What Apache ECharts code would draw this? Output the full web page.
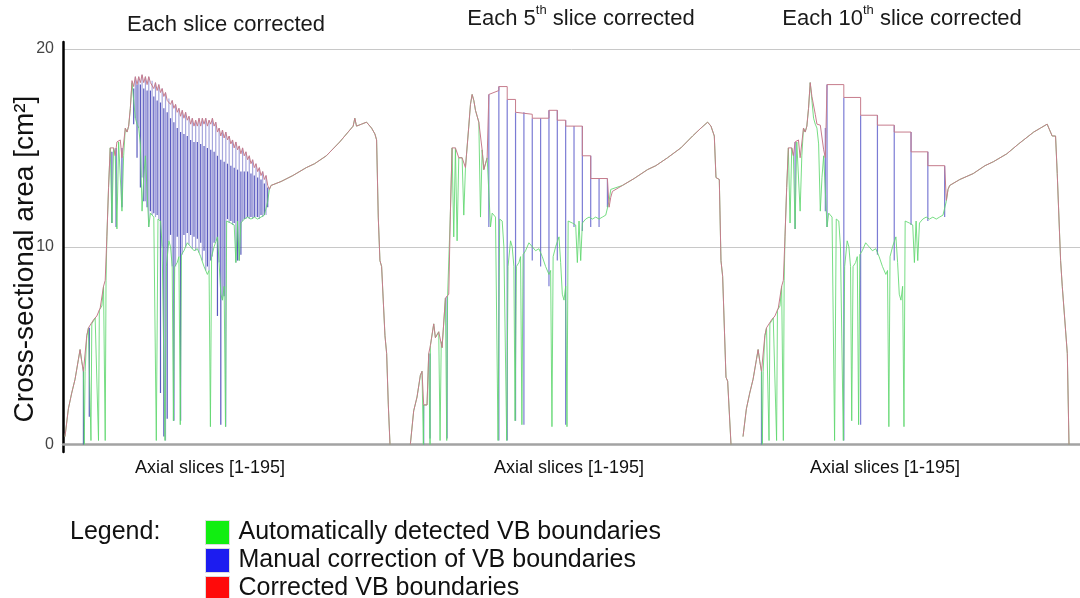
<!DOCTYPE html>
<html>
<head>
<meta charset="utf-8">
<title>VB boundaries</title>
<script src="https://cdn.jsdelivr.net/npm/echarts@6/dist/echarts.min.js"></script>
<style>
  html, body { margin: 0; padding: 0; background: #fff; }
  #container { width: 1080px; height: 598px; }
</style>
</head>
<body>
<div id="container"></div>
<script>
// slice numbers run 1..195, values in cm^2
var sliceMin = 1, sliceMax = 195;
var yTicks = [0, 10, 20];
var panelTitles = ['{n|Each slice corrected}', '{n|Each 5}{s|th}{n| slice corrected}', '{n|Each 10}{s|th}{n| slice corrected}'];
var xLabel = 'Axial slices [1-195]';
var yLabel = 'Cross-sectional area [cm\u00b2]';
var legendNames = ['Automatically detected VB boundaries', 'Manual correction of VB boundaries', 'Corrected VB boundaries'];

// automatic detection (green), start of the curve, panels 1 and 3
var autoHeadA = [[1,0.4],[3,1.8],[5,2.6],[7,3.3],[9,4.3],[10,4.8],[11,4.2],[12,3.7],[12.5,0],[13,3.7],[14,5.5],[15,5.9],[16,6.0],[16.5,0.2],[17,6.1],[19,6.4],[20,6.5],[21,0.2],[21.5,6.8],[23,7.0],[24,8.0],[25,0.2],[25.5,8.3],[26,10.5],[27,13.0],[28,15.0],[29,11.2],[30,15.0],[31,14.6],[32,10.9],[33,15.3],[34,15.4],[35,11.8],[36,14.6],[37,16.0],[38,15.8],[39,16.1],[40,17.0],[41,18.3],[42,17.4],[43,16.5],[44,16.2],[45,16.0],[46,15.2],[47,11.8],[48,13.5],[49,14.6]];
// automatic detection, start of the curve, panel 2
var autoHeadB = [[3,0],[5,1.7],[7,2.4],[9,3.5],[10,3.7],[10.8,0],[11,2.0],[13,2.0],[14,4.6],[14.8,0],[15,5.0],[17,6.1],[18,5.4],[20,5.7],[20.8,0.2],[21.5,5.2],[22,4.9],[24,7.4],[24.8,0.2],[25.3,7.5],[26,7.6],[27,11.8],[28,15.0],[29,10.5],[30,15.0],[31,10.3],[32,14.5],[34,14.5],[35,11.6],[36,14.0],[38,16.1],[39,17.2],[40,17.7],[41,17.4],[42,16.9],[43,16.6],[44,16.3],[45,11.5],[46,14.9],[47,13.9],[48,13.8],[49,14.5]];
// automatic detection, middle part (same in all panels)
var autoBody = [[50,14.5],[51,11.0],[52,11.7],[53,11.6],[54,11.5],[55,11.5],[55.5,0.2],[56.5,11.4],[58,11.3],[59,10.0],[60,10.0],[60.7,0.2],[61.5,9.0],[63,10.3],[64,10.0],[65,9.0],[65.7,1.2],[66.5,9.0],[68,9.2],[69,9.5],[69.8,1.0],[70.5,9.6],[72,9.8],[74,10.2],[76,10.0],[78,9.8],[80,9.9],[82,9.5],[84,9.0],[86,8.6],[87,8.8],[87.8,0.9],[88.5,9.5],[90,10.0],[92,10.5],[93,9.2],[94,7.6],[95,7.3],[96,8.0],[96.8,0.9],[97.5,11.3],[100,11.2],[102,11.1],[103,9.2],[104,11.3],[105,9.3],[106,11.2],[108,11.4],[110,11.5],[112,11.4],[114,11.5],[116,11.4],[118,11.5],[120,11.6],[122,12.3],[123,12.9]];

// corrected boundaries (red)
var corrHeadA = [[1,0.4],[3,1.8],[5,2.6],[7,3.3],[9,4.3],[10,4.8],[11,4.2],[12,3.7],[13,3.7],[14,5.5],[15,5.9],[16,6.0],[18,6.3],[20,6.5],[22,6.9],[23,7.0],[24,8.0],[25,8.3],[26,10.5],[27,13.0],[28,15.0],[30,15.0],[31,14.6],[32,15.3],[34,15.4],[35,14.5],[36,14.6],[37,16.0],[38,15.8],[39,16.1],[40,17.0]];
var corrHeadB = [[3,0],[5,1.7],[7,2.4],[9,3.5],[10,3.7],[11,2.0],[13,2.0],[14,4.6],[15,5.0],[17,6.1],[18,5.4],[20,5.7],[22,4.9],[24,7.4],[26,7.6],[27,11.8],[28,15.0],[30,15.0],[32,14.5],[34,14.5],[36,14.0],[38,16.1],[39,17.2],[40,17.7],[41,17.4],[42,16.9],[43,16.6],[44,16.3],[46,14.9],[47,13.9],[48,13.8],[49,14.5]];
var corrMid1 = [[41,18.4],[42,18.1],[43,18.6],[44,18.2],[45,18.6],[46,18.3],[47,18.7],[48,18.3],[49,18.6],[50,18.2],[51,18.6],[52,18.3],[53,18.4],[54,18.0],[55,18.3],[56,17.9],[57,18.2],[58,17.8],[59,18.0],[60,17.6],[61,17.8],[62,17.4],[63,17.5],[64,17.2],[65,17.4],[66,17.0],[67,17.2],[68,16.8],[69,17.0],[70,16.6],[71,16.9],[72,16.5],[73,16.8],[74,16.4],[75,16.6],[76,16.2],[77,16.5],[78,16.1],[79,16.4],[80,16.1],[81,16.5],[82,16.1],[83,16.5],[84,16.2],[85,16.5],[86,16.1],[87,16.4],[88,16.2],[89,16.5],[90,16.1],[91,16.3],[92,15.8],[93,16.0],[94,15.6],[95,15.9],[96,15.5],[97,15.8],[98,15.4],[99,15.6],[100,15.2],[101,15.4],[102,15.0],[103,15.3],[104,14.9],[105,15.1],[106,14.7],[107,15.0],[108,14.6],[109,14.8],[110,14.4],[111,14.6],[112,14.2],[113,14.4],[114,14.0],[115,14.2],[116,13.8],[117,14.0],[118,13.6],[119,13.8],[120,13.4],[121,13.6],[122,13.1],[123,12.9]];
var corrMid2 = [[50,14.4],[50,17.7],[56,17.9],[56,18.1],[61,18.1],[61,17.45],[66,17.45],[66,16.8],[76,16.7],[76,16.5],[86,16.5],[86,16.9],[91,16.9],[91,16.4],[96,16.4],[96,16.1],[106,16.1],[106,14.6],[111,14.6],[111,13.45],[121,13.45],[122,12.0],[123,12.5]];
var corrMid3 = [[41,18.3],[42,17.6],[44,16.7],[45,16.2],[47,16.15],[49,14.9],[50,14.5],[51,14.5],[51,18.2],[61,18.2],[61,17.55],[71,17.55],[71,16.65],[81,16.65],[81,16.15],[91,16.15],[91,15.8],[101,15.8],[101,14.8],[111,14.8],[111,14.1],[121,14.1],[122,12.35],[123,12.9]];

// end of the curve (no corrections there), one per panel
var tail1 = [[124,13.1],[130,13.3],[137,13.6],[145,14.0],[150,14.2],[157,14.6],[165,15.3],[170,15.8],[173,16.1],[174,16.5],[175,16.1],[178,16.2],[181,16.3],[184,16.0],[186,15.7],[187,15.4],[188,11.5],[189,9.3],[190,9.0],[192,5.5],[193,4.6],[194,2.0],[195,0]];
var tail2 = [[124,12.8],[130,13.1],[137,13.45],[145,13.9],[150,14.1],[157,14.5],[165,15.0],[172,15.6],[177,16.0],[181,16.3],[183,16.1],[185,15.6],[186,13.5],[188,13.4],[189,9.3],[190,8.5],[192,3.4],[193,3.2],[195,0]];
var tail3 = [[124,13.1],[130,13.4],[138,13.7],[145,14.1],[150,14.3],[158,14.7],[165,15.2],[174,15.8],[178,16.0],[182,16.2],[185,15.6],[187,15.6],[188,13.7],[190,9.3],[191,8.0],[194,4.6],[195,0]];

// manual corrections (blue): [slice, from, to]
var manualLight1 = [[43,16.5,18.6],[45,16.0,18.6],[47,13.5,18.7],[49,12.3,18.6],[51,11.0,18.6],[53,11.6,18.4],[55,11.5,18.3],[57,11.4,18.2],[59,10.0,18.0],[61,0.2,17.8],[63,10.3,17.5],[65,9.0,17.4],[67,9.0,17.2],[69,9.5,17.0],[71,9.6,16.9],[73,10.0,16.8],[75,10.1,16.6],[77,9.9,16.5],[79,9.8,16.4],[81,9.7,16.5],[83,9.3,16.5],[85,8.8,16.5],[87,8.8,16.4],[89,9.5,16.5],[91,10.3,16.3],[93,9.2,16.0],[95,7.3,15.9],[97,0.9,15.8],[99,11.2,15.6],[101,11.1,15.4],[103,9.2,15.3],[105,9.3,15.1],[107,11.3,15.0],[109,11.4,14.8],[111,11.4,14.6],[113,11.4,14.4],[115,11.5,14.2],[117,11.4,14.0],[119,11.5,13.8],[121,11.6,13.6]];
var manualDark1 = [[12,0,3.9],[15.5,1.4,5.9],[29,11.2,14.8],[31.5,11.0,15.0],[35,12.0,15.0],[42,16.2,18.0],[44,14.5,18.2],[46,13.0,18.2],[48,12.3,18.0],[50,12.0,17.9],[52,11.8,17.9],[54,11.7,17.6],[56,11.6,17.4],[58,2.6,17.3],[60,0.4,17.0],[62,1.3,16.8],[64,10.6,16.5],[66,1.2,16.3],[68,10.5,16.0],[70,1.2,15.8],[72,10.6,15.7],[74,10.7,15.6],[76,10.6,15.4],[78,10.5,15.3],[80,10.4,15.3],[82,10.2,15.2],[84,9.8,15.1],[86,9.0,15.0],[88,9.3,14.9],[90,10.2,14.8],[92,6.5,14.6],[94,1.0,14.4],[96,7.5,14.3],[98,11.4,14.2],[100,11.3,14.1],[102,11.2,14.0],[104,9.3,13.9],[106,9.6,13.8],[108,11.4,13.8],[110,11.5,13.8],[112,11.5,13.7],[114,11.5,13.6],[116,11.5,13.5],[118,11.6,13.4],[120,11.6,13.2],[122,12.0,13.0]];
var manual2 = [[11,0,2.0],[14.8,0.3,4.6],[25,0.3,7.5],[50,11.0,17.7],[56,0.2,18.1],[61,0.2,17.45],[66,1.2,16.8],[71,1.0,16.8],[76,9.3,16.5],[81,9.0,16.5],[86,8.0,16.9],[91,9.3,16.9],[96,1.0,16.4],[101,11.0,16.1],[106,10.8,16.1],[111,11.0,14.6],[116,11.0,13.45],[121,12.0,13.45]];
var manual3 = [[12,0,3.7],[32,10.9,15.3],[50,11.8,16.0],[51,11.0,18.2],[61,0.2,17.55],[71,1.0,16.65],[81,9.6,16.65],[91,9.3,16.15],[101,11.1,15.8],[111,11.3,14.8],[121,11.5,14.1]];

var auto1 = autoHeadA.concat(autoBody, tail1);
var auto2 = autoHeadB.concat(autoBody, tail2);
var auto3 = autoHeadA.concat(autoBody, tail3);
var corr1 = corrHeadA.concat(corrMid1, tail1);
var corr2 = corrHeadB.concat(corrMid2, tail2);
var corr3 = corrHeadA.concat(corrMid3, tail3);

var FONT = '"Liberation Sans", Arial, sans-serif';
var greenCol = 'rgba(95,215,110,0.85)';
var redCol = '#c67c8c';
var lightBlue = 'rgba(150,150,215,0.85)';
var darkBlue = 'rgba(60,60,180,0.85)';
var midBlue = 'rgba(100,100,205,0.85)';

var panels = [
  {left: 65, width: 325},
  {left: 407, width: 324},
  {left: 743, width: 326}
];
var plotTop = 49;
var plotHeight = 395.5;

function segment(params, api) {
  var x = api.value(0);
  var a = api.coord([x, api.value(1)]);
  var b = api.coord([x, api.value(2)]);
  return {
    type: 'line',
    shape: {x1: a[0], y1: a[1], x2: b[0], y2: b[1]},
    style: {stroke: api.visual('color'), lineWidth: 1.2}
  };
}

function lineSeries(name, idx, data, color) {
  return {
    name: name, type: 'line', xAxisIndex: idx, yAxisIndex: idx,
    data: data, symbol: 'none', showSymbol: false,
    lineStyle: {color: color, width: 1}, itemStyle: {color: color},
    animation: false
  };
}

function manualSeries(idx, data, color) {
  return {
    name: legendNames[1], type: 'custom', xAxisIndex: idx, yAxisIndex: idx,
    data: data, encode: {x: 0, y: [1, 2]}, renderItem: segment,
    itemStyle: {color: color}, animation: false
  };
}

var dom = document.getElementById('container');
var myChart = echarts.init(dom);

var grids = [{left: 63, right: 0, top: plotTop, height: plotHeight}];
var xAxes = [{gridIndex: 0, type: 'value', min: 0, max: 1, axisLine: {show: true, onZero: true, lineStyle: {color: '#a3a3a3', width: 2.5}}, axisTick: {show: false}, axisLabel: {show: false}, splitLine: {show: false}}];
var yAxes = [{gridIndex: 0, type: 'value', min: yTicks[0], max: yTicks[yTicks.length - 1], interval: 10,
  axisLine: {show: false}, axisTick: {show: false},
  axisLabel: {color: '#444', fontSize: 16, fontFamily: FONT, margin: 9},
  splitLine: {show: true, lineStyle: {color: '#c8c8c8', width: 1}}}];

panels.forEach(function (p, i) {
  grids.push({left: p.left, width: p.width, top: plotTop, height: plotHeight});
  xAxes.push({gridIndex: i + 1, type: 'value', min: sliceMin, max: sliceMax, show: false});
  yAxes.push({gridIndex: i + 1, type: 'value', min: 0, max: 20, show: false});
});

// the black vertical axis line, a bit longer than the plot
grids.push({left: 63, width: 2, top: 42, height: 410});
xAxes.push({gridIndex: 4, type: 'value', show: false});
yAxes.push({gridIndex: 4, type: 'value', min: 0, max: 1, axisLine: {show: true, lineStyle: {color: '#000', width: 2.5}}, axisTick: {show: false}, axisLabel: {show: false}, splitLine: {show: false}});

var series = [
  lineSeries(legendNames[0], 1, auto1, greenCol),
  manualSeries(1, manualLight1, lightBlue),
  manualSeries(1, manualDark1, darkBlue),
  lineSeries(legendNames[2], 1, corr1, redCol),
  lineSeries(legendNames[0], 2, auto2, greenCol),
  manualSeries(2, manual2, midBlue),
  lineSeries(legendNames[2], 2, corr2, redCol),
  lineSeries(legendNames[0], 3, auto3, greenCol),
  manualSeries(3, manual3, midBlue),
  lineSeries(legendNames[2], 3, corr3, redCol)
];

var titleRich = {
  n: {fontSize: 22, fontFamily: FONT, fontWeight: 'normal', color: '#1a1a1a', lineHeight: 26, verticalAlign: 'bottom'},
  s: {fontSize: 13, fontFamily: FONT, fontWeight: 'normal', color: '#1a1a1a', lineHeight: 9, verticalAlign: 'top'}
};
var titleStyle = {fontWeight: 'normal', fontFamily: FONT, rich: titleRich};

var option = {
  animation: false,
  backgroundColor: '#fff',
  title: [
    {text: panelTitles[0], left: 226, top: 10, textAlign: 'center', padding: 0, textStyle: titleStyle},
    {text: panelTitles[1], left: 581, top: 4, textAlign: 'center', padding: 0, textStyle: titleStyle},
    {text: panelTitles[2], left: 902, top: 4, textAlign: 'center', padding: 0, textStyle: titleStyle}
  ],
  legend: {
    orient: 'vertical', left: 205, top: 520, height: 120, padding: 0,
    itemWidth: 24, itemHeight: 24, itemGap: 3, icon: 'rect', selectedMode: false,
    textStyle: {fontSize: 25, fontFamily: FONT, color: '#111', padding: [0, 0, 0, 4]},
    data: [
      {name: legendNames[0], itemStyle: {color: '#11ee11', borderColor: '#dcdcdc', borderWidth: 1}},
      {name: legendNames[1], itemStyle: {color: '#1c1cf0', borderColor: '#dcdcdc', borderWidth: 1}},
      {name: legendNames[2], itemStyle: {color: '#ff0a0a', borderColor: '#dcdcdc', borderWidth: 1}}
    ]
  },
  graphic: [
    {type: 'text', x: 25, y: 259, rotation: Math.PI / 2,
      style: {text: yLabel, font: '28px ' + FONT, fill: '#111', textAlign: 'center', textVerticalAlign: 'middle'}},
    {type: 'text', x: 210, y: 468, style: {text: xLabel, font: '18px ' + FONT, fill: '#111', textAlign: 'center', textVerticalAlign: 'middle'}},
    {type: 'text', x: 569, y: 468, style: {text: xLabel, font: '18px ' + FONT, fill: '#111', textAlign: 'center', textVerticalAlign: 'middle'}},
    {type: 'text', x: 885, y: 468, style: {text: xLabel, font: '18px ' + FONT, fill: '#111', textAlign: 'center', textVerticalAlign: 'middle'}},
    {type: 'text', x: 70, y: 532, style: {text: 'Legend:', font: '25px ' + FONT, fill: '#111', textAlign: 'left', textVerticalAlign: 'middle'}}
  ],
  grid: grids,
  xAxis: xAxes,
  yAxis: yAxes,
  series: series
};

myChart.setOption(option, true);
</script>
</body>
</html>
